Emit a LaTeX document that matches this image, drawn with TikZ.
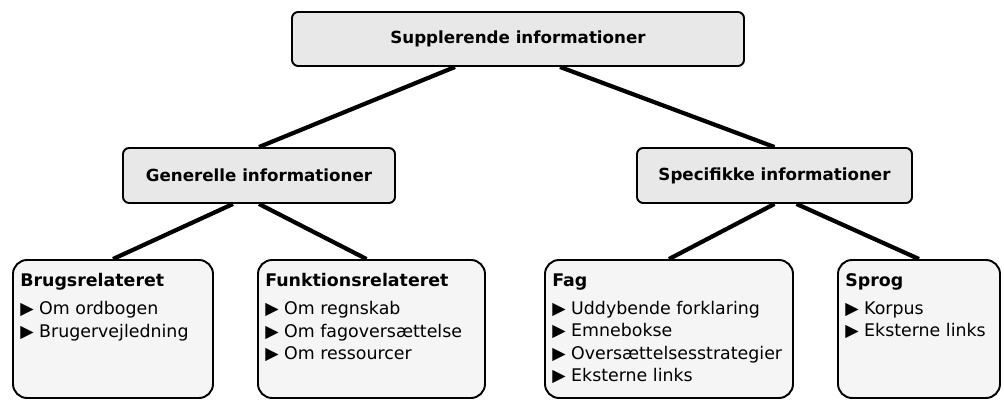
\documentclass[tikz,border=0pt]{standalone}
\usepackage{fontspec}
\setmainfont{DejaVu Sans}
\begin{document}
\begin{tikzpicture}[line join=round, font=\fontsize{9.5}{12.5}\selectfont,
    hoved/.style={draw, line width=1.1pt, rounded corners=3.5pt, fill=gray!18, minimum height=1.1cm, font=\fontsize{9.5}{12.5}\selectfont\bfseries},
    blad/.style={draw, line width=1.1pt, rounded corners=8pt, fill=gray!8, minimum height=2.76cm},
    bladtekst/.style={anchor=north west, align=left, inner xsep=4.5pt, inner ysep=8pt, font=\fontsize{9.9}{12.8}\selectfont},
    forbind/.style={line width=2.4pt}]
    \useasboundingbox (0,0) rectangle (20.08,-8);
    % overste niveau
    \node[hoved, minimum width=9.04cm, minimum height=1.08cm] (supp) at (10.36,-.78) {Supplerende informationer};
    \node[hoved, minimum width=5.44cm] (gen) at (5.18,-3.51) {Generelle informationer};
    \node[hoved, minimum width=5.5cm] (spec) at (15.49,-3.51) {Specifikke informationer};
    % nederste niveau
    \node[blad, minimum width=4cm] (brugs) at (2.26,-6.58) {};
    \node[blad, minimum width=4.54cm] (funk) at (7.43,-6.58) {};
    \node[blad, minimum width=4.96cm] (fag) at (13.38,-6.58) {};
    \node[blad, minimum width=3.24cm] (sprog) at (18.38,-6.58) {};
    \node[bladtekst] (brugs tekst) at (brugs.north west) {\textbf{Brugsrelateret}\\[3.2pt]
        ▶ Om ordbogen\\ ▶ Brugervejledning};
    \node[bladtekst] (funk tekst) at (funk.north west) {\textbf{Funktionsrelateret}\\[3.2pt]
        ▶ Om regnskab\\ ▶ Om fagoversættelse\\ ▶ Om ressourcer};
    \node[bladtekst] (fag tekst) at (fag.north west) {\textbf{Fag}\\[3.2pt]
        ▶ Uddybende forklaring\\ ▶ Emnebokse\\ ▶ Oversættelsesstrategier\\ ▶ Eksterne links};
    \node[bladtekst] (sprog tekst) at (sprog.north west) {\textbf{Sprog}\\[3.2pt]
        ▶ Korpus\\ ▶ Eksterne links};
    % forbindelser
    \draw[forbind] ([xshift=-1.26cm]supp.south) -- (gen.north);
    \draw[forbind] ([xshift=.84cm]supp.south) -- (spec.north);
    \draw[forbind] ([xshift=-.52cm]gen.south) -- (brugs.north);
    \draw[forbind] (gen.south) -- ([xshift=-.1cm]funk.north);
    \draw[forbind] (spec.south) -- (fag.north);
    \draw[forbind] ([xshift=.44cm]spec.south) -- (sprog.north);
\end{tikzpicture}
\end{document}
